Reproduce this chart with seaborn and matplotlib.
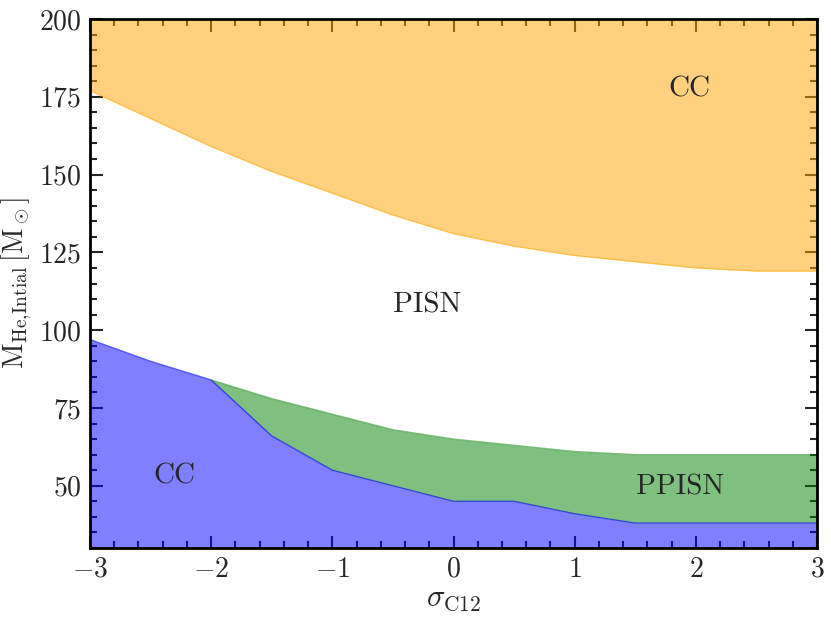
import numpy as np
import pandas as pd
import seaborn as sns
import matplotlib
matplotlib.use("Agg")
import matplotlib.pyplot as plt
from matplotlib.ticker import MultipleLocator

# boundaries
sigma = [-3, -2.5, -2, -1.5, -1, -0.5, 0, 0.5, 1, 1.5, 2, 2.5, 3]
# upper CC / PISN boundary
m_pisn_upper = [177, 168, 159, 151, 144, 137, 131, 127, 124, 122, 120, 119, 119]
# lower CC / PPISN boundary
m_cc_lower = [97, 90, 84, 66, 55, 50, 45, 45, 41, 38, 38, 38, 38]
# PPISN / PISN boundary (from sigma = -2)
sigma_pp = [-2, -1.5, -1, -0.5, 0, 0.5, 1, 1.5, 2, 2.5, 3]
m_ppisn_upper = [84, 78, 73, 68, 65, 63, 61, 60, 60, 60, 60]

y_min, y_max = 30, 200

sns.set_style("ticks")
plt.rcParams["font.family"] = ["serif"]
plt.rcParams["font.serif"] = ["cmr10", "DejaVu Serif"]
plt.rcParams["mathtext.fontset"] = "cm"
plt.rcParams["axes.formatter.use_mathtext"] = True
plt.rcParams["axes.unicode_minus"] = True


def main():
    fig = plt.figure(figsize=(8.31, 6.2), dpi=100)
    ax = fig.add_axes([90 / 831, 1 - 548 / 620, 727 / 831, 529 / 620])

    df = pd.DataFrame({"sigma": sigma, "upper": m_pisn_upper, "lower": m_cc_lower})
    dfp = pd.DataFrame({"sigma": sigma_pp, "pp": m_ppisn_upper})
    cc_at_pp = np.interp(sigma_pp, sigma, m_cc_lower)

    ax.fill_between(df.sigma, df.upper, y_max, color="orange", alpha=0.5, lw=0)
    ax.fill_between(df.sigma, y_min - 10, df.lower, color="blue", alpha=0.5, lw=0)
    ax.fill_between(dfp.sigma, cc_at_pp, dfp.pp, color="green", alpha=0.5, lw=0)

    sns.lineplot(data=df, x="sigma", y="upper", ax=ax, color="orange", alpha=0.5, lw=1)
    sns.lineplot(data=df, x="sigma", y="lower", ax=ax, color="blue", alpha=0.6, lw=1)
    sns.lineplot(data=dfp, x="sigma", y="pp", ax=ax, color="green", alpha=0.5, lw=1)

    ax.text(1.95, 177.5, "CC", fontsize=21, ha="center", va="center")
    ax.text(-0.22, 108, "PISN", fontsize=21, ha="center", va="center")
    ax.text(-2.3, 53, "CC", fontsize=21, ha="center", va="center")
    ax.text(1.87, 49.5, "PPISN", fontsize=21, ha="center", va="center")

    ax.set_xlim(-3, 3)
    ax.set_ylim(y_min, y_max)
    ax.xaxis.set_major_locator(MultipleLocator(1))
    ax.xaxis.set_minor_locator(MultipleLocator(0.2))
    ax.yaxis.set_major_locator(MultipleLocator(25))
    ax.yaxis.set_minor_locator(MultipleLocator(5))
    ax.tick_params(which="both", direction="in", top=True, right=True, width=1.5)
    ax.tick_params(which="major", length=9, labelsize=20, pad=6)
    ax.tick_params(which="minor", length=5)
    for s in ax.spines.values():
        s.set_linewidth(2)
        s.set_color("black")

    ax.set_xlabel(r"$\sigma_{\rm C12}$", fontsize=22, labelpad=2)
    ax.set_ylabel(r"$\mathrm{M}_{\mathrm{He,\!Intial}}\,[\mathrm{M}_\odot]$",
                  fontsize=20, labelpad=4)

    fig.savefig("out.png", dpi=100)


if __name__ == "__main__":
    main()
